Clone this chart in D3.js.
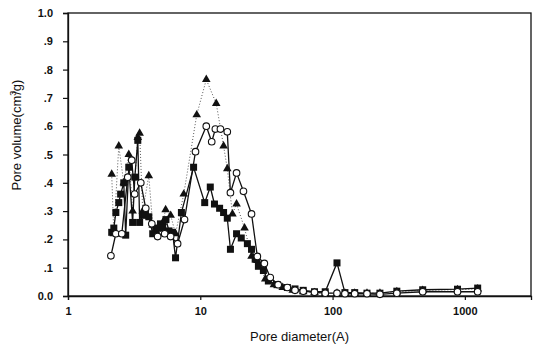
<!DOCTYPE html>
<html>
<head>
<meta charset="utf-8">
<script src="https://cdn.jsdelivr.net/npm/d3@7"></script>
<style>
    body { margin: 0; background: #fff; }
    svg { display: block; }
    .tick text { font-family: "Liberation Sans", Arial, sans-serif; font-weight: bold; font-size: 11px; fill: #111; }
    .title { font-family: "Liberation Sans", Arial, sans-serif; font-size: 13px; fill: #111; }
</style>
</head>
<body>
<script>
// Pore diameter (A) and pore volume (cm3/g).
var squareDiameters = [2.14, 2.22, 2.30, 2.42, 2.50, 2.64, 2.73, 2.88, 3.08, 3.20, 3.37, 3.48, 3.67, 3.85, 4.08, 4.37, 4.6, 4.76, 5.0, 5.2, 5.5, 5.8, 6.17, 6.5, 7.2, 8.9, 10.8, 11.9, 12.8, 14.0, 15.0, 16.0, 16.9, 18.8, 20.4, 22.7, 24.4, 26, 27.5, 30, 32.7, 38, 45.5, 52, 60, 73, 88, 108, 124, 147, 182, 228, 306, 480, 880, 1250];
var squareVolumes = [0.225, 0.24, 0.295, 0.33, 0.36, 0.40, 0.215, 0.455, 0.26, 0.42, 0.55, 0.26, 0.285, 0.29, 0.28, 0.22, 0.235, 0.24, 0.255, 0.24, 0.27, 0.23, 0.225, 0.135, 0.295, 0.455, 0.33, 0.385, 0.325, 0.31, 0.295, 0.275, 0.165, 0.22, 0.205, 0.185, 0.165, 0.13, 0.105, 0.09, 0.053, 0.04, 0.03, 0.025, 0.02, 0.015, 0.015, 0.117, 0.012, 0.012, 0.01, 0.01, 0.017, 0.022, 0.024, 0.028];

var circleDiameters = [2.11, 2.30, 2.55, 2.83, 3.03, 3.19, 3.55, 3.87, 4.30, 4.76, 5.38, 5.97, 6.74, 7.6, 9.2, 11.1, 12.2, 13.0, 14.2, 16.0, 16.9, 18.8, 21.2, 24.4, 27.0, 30.5, 33.8, 38.8, 45.5, 52, 60, 73, 88, 108, 124, 147, 182, 228, 306, 480, 880, 1250];
var circleVolumes = [0.142, 0.22, 0.22, 0.42, 0.48, 0.36, 0.40, 0.31, 0.255, 0.21, 0.22, 0.21, 0.185, 0.27, 0.51, 0.60, 0.545, 0.59, 0.59, 0.58, 0.365, 0.435, 0.37, 0.29, 0.14, 0.115, 0.065, 0.04, 0.03, 0.02, 0.017, 0.013, 0.01, 0.01, 0.008, 0.008, 0.008, 0.006, 0.01, 0.015, 0.015, 0.015];

var triangleDiameters = [2.14, 2.22, 2.42, 2.64, 2.88, 3.08, 3.37, 3.48, 3.67, 4.08, 4.37, 4.76, 5.2, 5.47, 5.97, 6.5, 7.5, 9.4, 11.1, 13.2, 15.0, 16.0, 17.5, 18.8, 21.6, 24.4, 27, 31, 36, 42, 50, 60, 73, 88, 108, 124, 147, 182, 228, 306, 480, 880, 1250];
var triangleVolumes = [0.43, 0.22, 0.53, 0.40, 0.50, 0.30, 0.56, 0.575, 0.30, 0.425, 0.25, 0.22, 0.26, 0.305, 0.285, 0.22, 0.36, 0.64, 0.765, 0.68, 0.53, 0.45, 0.29, 0.325, 0.24, 0.14, 0.125, 0.06, 0.04, 0.03, 0.02, 0.015, 0.012, 0.01, 0.01, 0.01, 0.01, 0.01, 0.01, 0.015, 0.02, 0.022, 0.025];

var xTicks = [1, 10, 100, 1000];
var yTicks = [0, 0.1, 0.2, 0.3, 0.4, 0.5, 0.6, 0.7, 0.8, 0.9, 1.0];
var yTickLabels = ["0.0", ".1", ".2", ".3", ".4", ".5", ".6", ".7", ".8", ".9", "1.0"];

var width = 540, height = 347;
var margin = {top: 13, right: 9, bottom: 51, left: 68};

var svg = d3.select("body").append("svg")
    .attr("width", width)
    .attr("height", height);

var x = d3.scaleLog()
    .domain([1, Math.pow(10, 3.5)])
    .range([margin.left, width - margin.right]);

var y = d3.scaleLinear()
    .domain([0, 1])
    .range([height - margin.bottom, margin.top]);

// Frame round the plot.
svg.append("rect")
    .attr("x", margin.left)
    .attr("y", margin.top)
    .attr("width", width - margin.left - margin.right)
    .attr("height", height - margin.top - margin.bottom)
    .attr("fill", "none")
    .attr("stroke", "#111")
    .attr("stroke-width", 1.3);

var xAxis = svg.append("g")
    .attr("transform", "translate(0," + (height - margin.bottom) + ")")
    .call(d3.axisBottom(x).tickValues(xTicks).tickFormat(d3.format("d")).tickSize(4).tickPadding(7));

var yAxis = svg.append("g")
    .attr("transform", "translate(" + margin.left + ",0)")
    .call(d3.axisLeft(y).tickValues(yTicks).tickFormat(function(d, i) { return yTickLabels[i]; }).tickSize(5).tickPadding(10));

[xAxis, yAxis].forEach(function(g) {
    g.select(".domain").attr("stroke", "#111").attr("stroke-width", 1.3);
    g.selectAll(".tick line").attr("stroke", "#111").attr("stroke-width", 1.2);
});

function points(ds, vs) {
    return ds.map(function(d, i) { return [d, vs[i]]; });
}

var line = d3.line()
    .x(function(p) { return x(p[0]); })
    .y(function(p) { return y(p[1]); });

var triangles = points(triangleDiameters, triangleVolumes);
var squares = points(squareDiameters, squareVolumes);
var circles = points(circleDiameters, circleVolumes);

// Triangles: dotted line.
svg.append("path")
    .attr("d", line(triangles))
    .attr("fill", "none")
    .attr("stroke", "#555")
    .attr("stroke-width", 1)
    .attr("stroke-dasharray", "1,2");

svg.append("path")
    .attr("d", line(squares))
    .attr("fill", "none")
    .attr("stroke", "#111")
    .attr("stroke-width", 1.3);

svg.append("path")
    .attr("d", line(circles))
    .attr("fill", "none")
    .attr("stroke", "#111")
    .attr("stroke-width", 1.3);

svg.append("g").selectAll("path")
    .data(triangles)
    .join("path")
    .attr("d", d3.symbol().type(d3.symbolTriangle).size(32))
    .attr("transform", function(p) { return "translate(" + x(p[0]) + "," + y(p[1]) + ")"; })
    .attr("fill", "#111");

svg.append("g").selectAll("rect")
    .data(squares)
    .join("rect")
    .attr("x", function(p) { return x(p[0]) - 3.5; })
    .attr("y", function(p) { return y(p[1]) - 3.5; })
    .attr("width", 7)
    .attr("height", 7)
    .attr("fill", "#111");

svg.append("g").selectAll("circle")
    .data(circles)
    .join("circle")
    .attr("cx", function(p) { return x(p[0]); })
    .attr("cy", function(p) { return y(p[1]); })
    .attr("r", 3.3)
    .attr("fill", "#fff")
    .attr("stroke", "#111")
    .attr("stroke-width", 1.1);

svg.append("text")
    .attr("class", "title")
    .attr("x", (margin.left + width - margin.right) / 2)
    .attr("y", 341)
    .attr("text-anchor", "middle")
    .text("Pore diameter(A)");

var yTitle = svg.append("text")
    .attr("class", "title")
    .attr("transform", "translate(21,135) rotate(-90)")
    .attr("text-anchor", "middle");
yTitle.append("tspan").text("Pore volume(cm");
yTitle.append("tspan").attr("dy", -5).attr("font-size", "9px").text("3");
yTitle.append("tspan").attr("dy", 5).attr("dx", -4).text("/g)");
</script>
</body>
</html>
